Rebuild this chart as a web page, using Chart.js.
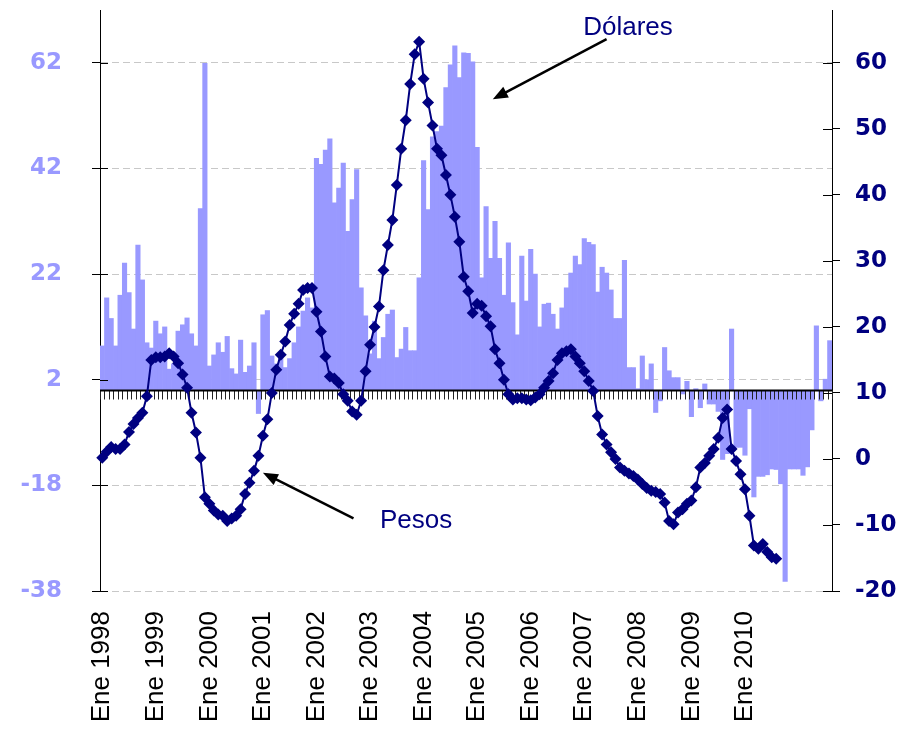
<!DOCTYPE html>
<html>
<head>
<meta charset="utf-8">
<script src="https://cdn.jsdelivr.net/npm/chart.js@4/dist/chart.umd.min.js"></script>
<style>
  html, body { margin: 0; padding: 0; background: #fff; }
  canvas { display: block; }
</style>
</head>
<body>
<canvas id="chart" width="920" height="729"></canvas>
<script>
// categories: monthly, Ene 1998 .. Ago 2011
const meses = ["Ene", "Feb", "Mar", "Abr", "May", "Jun", "Jul", "Ago", "Sep", "Oct", "Nov", "Dic"];
const anios = [1998, 1999, 2000, 2001, 2002, 2003, 2004, 2005, 2006, 2007, 2008, 2009, 2010, 2011];
const nMeses = 164;

// tick labels shown on the category axis
const tickLabels = ["Ene 1998", "Ene 1999", "Ene 2000", "Ene 2001", "Ene 2002", "Ene 2003", "Ene 2004",
  "Ene 2005", "Ene 2006", "Ene 2007", "Ene 2008", "Ene 2009", "Ene 2010"];

// Dólares (bars, left axis)
const dolares = [
  8.4, 17.5, 13.6, 8.4, 18, 24.1, 18.5, 11.6, 27.5, 20.9, 9, 8,
  13.1, 10.7, 12, 4, 5, 11.2, 12.4, 13.7, 10.7, 8.4, 34.4, 61.9,
  4.6, 6.7, 9, 7.2, 10.2, 4.1, 3.1, 9.5, 3.4, 4.6, 9, -4.4,
  14.3, 15.1, 6.5, 5, 7, 4.3, 6, 9, 12, 15, 17.5, 15.6,
  43.9, 42.8, 45.5, 47.6, 35.5, 38.3, 43, 30.1, 36.1, 41.8, 19.4, 14.1,
  6.9, 13.1, 6, 10, 14.4, 15.2, 6.2, 7.8, 11.9, 7.5, 7.5, 21.3,
  43.5, 34.2, 48, 49, 50, 57.3, 61.6, 65.2, 59.2, 63.9, 63.8, 62.2,
  46, 21.3, 34.8, 25, 32, 25, 18, 27.9, 16.6, 10.5, 25.4, 16.9,
  26.7, 22, 12, 16.3, 16.5, 14.4, 11.6, 15.6, 19.4, 22.2, 25.4, 23.8,
  28.7, 28, 27.6, 18.6, 23.3, 22.2, 19, 13.6, 13.6, 24.6, 4.3, 4.3,
  0.3, 6.5, 2, 5, -4.2, -2, 8.1, 3.7, 2.4, 2.4, -0.7, 1.7,
  -5, 0.3, -3.3, 1.2, -2.6, -2.6, -4, -13.1, -12, 11.6, -10.8, -10.8,
  -12.3, -3.5, -20.2, -16.3, -16.3, -16, -14.9, -15, -17.7, -36.2, -14.9, -14.9,
  -14.9, -16.1, -14.5, -7.5, 12.2, -2, 2.1, 9.4
];

// Pesos (line, right axis)
const pesos = [
  0.2, 1.1, 1.8, 1.5, 1.5, 2.2, 4.1, 5.3, 6.2, 7, 9.5, 15,
  15.4, 15.4, 15.5, 16, 15.5, 14.5, 12.8, 10.8, 7, 4, 0.2, -5.8,
  -6.8, -7.8, -8.4, -8.6, -9.4, -9, -8.6, -7.6, -5.3, -3.6, -1.8, 0.5,
  3.5, 6, 10, 13.5, 15.8, 17.8, 20.3, 22, 23.5, 25.6, 25.9, 25.9,
  22.3, 19.3, 15.5, 12.5, 12.2, 11.5, 9.8, 8.8, 7.2, 6.7, 8.8, 13.3,
  17.3, 20, 23.1, 28.6, 32.4, 36.2, 41.5, 47, 51.3, 56.8, 61.3, 63.2,
  57.6, 54, 50.5, 47, 46, 43, 40, 36.7, 32.9, 27.6, 25.4, 22.1,
  23.5, 23.2, 21.6, 20.1, 16.6, 14.5, 12, 9.8, 9, 9.2, 9.2, 9,
  8.9, 9.3, 9.8, 10.8, 11.8, 13, 15, 16, 16.3, 16.6, 15.5, 14.5,
  13.3, 11.8, 10.3, 6.5, 3.7, 2.2, 1, 0, -1.3, -1.8, -2.2, -2.6,
  -3.1, -3.8, -4.4, -4.8, -5, -5.3, -6.6, -9.4, -9.9, -8.1, -7.6, -6.8,
  -6.3, -4.3, -1.3, -0.6, 0.5, 1.5, 3.2, 6.2, 7.5, 1.5, -0.3, -2.3,
  -4.6, -8.6, -13.1, -13.6, -12.9, -14.1, -14.9, -15.1
];

const leftTicks = [-38, -18, 2, 22, 42, 62];
const rightTicks = [-20, -10, 0, 10, 20, 30, 40, 50, 60];

const labels = [];
for (let i = 0; i < nMeses; i++) {
  labels.push(meses[i % 12] + " " + anios[Math.floor(i / 12)]);
}

// horizontal axis line with monthly ticks, drawn at zero of the left scale,
// plus the inner half of the value-axis tick marks (they cross the axis lines)
const zeroAxis = {
  id: "zeroAxis",
  afterDatasetDraw(chart, args) {
    if (args.index !== 1) return;
    const { ctx, chartArea } = chart;
    const xs = chart.scales.x;
    const y0 = Math.round(chart.scales.y.getPixelForValue(0)) + 0.5;
    ctx.save();
    ctx.strokeStyle = "#222";
    ctx.lineWidth = 1;
    ctx.beginPath();
    for (let i = 0; i <= labels.length; i++) {
      const px = Math.round(xs.getPixelForValue(i - 0.5)) + 0.5;
      ctx.moveTo(px, y0);
      ctx.lineTo(px, y0 + 9);
    }
    ctx.stroke();
    ctx.strokeStyle = "#000";
    ctx.lineWidth = 2;
    ctx.beginPath();
    ctx.moveTo(chartArea.left, y0);
    ctx.lineTo(chartArea.right, y0);
    ctx.stroke();

    ctx.lineWidth = 1;
    ctx.beginPath();
    leftTicks.forEach(v => {
      const py = Math.round(chart.scales.y.getPixelForValue(v)) + 0.5;
      ctx.moveTo(chartArea.left, py);
      ctx.lineTo(chartArea.left + 8, py);
    });
    rightTicks.forEach(v => {
      const py = Math.round(chart.scales.yR.getPixelForValue(v)) + 0.5;
      ctx.moveTo(chartArea.right, py);
      ctx.lineTo(chartArea.right - 9, py);
    });
    ctx.stroke();
    ctx.restore();
  }
};

function arrow(ctx, x1, y1, x2, y2) {
  const a = Math.atan2(y2 - y1, x2 - x1);
  const len = 15, w = 6;
  ctx.beginPath();
  ctx.moveTo(x1, y1);
  ctx.lineTo(x2 - Math.cos(a) * len * 0.8, y2 - Math.sin(a) * len * 0.8);
  ctx.stroke();
  ctx.beginPath();
  ctx.moveTo(x2, y2);
  ctx.lineTo(x2 - len * Math.cos(a) + w * Math.sin(a), y2 - len * Math.sin(a) - w * Math.cos(a));
  ctx.lineTo(x2 - len * Math.cos(a) - w * Math.sin(a), y2 - len * Math.sin(a) + w * Math.cos(a));
  ctx.closePath();
  ctx.fill();
}

// "Dólares" / "Pesos" callouts, placed in (month index, right axis value)
const notes = {
  id: "notes",
  afterDraw(chart) {
    const { ctx } = chart;
    const xs = chart.scales.x, rs = chart.scales.yR;
    const P = (i, v) => [xs.getPixelForValue(i), rs.getPixelForValue(v)];
    ctx.save();
    ctx.font = '26px "Liberation Sans", Arial, sans-serif';
    ctx.fillStyle = "#000080";
    ctx.textAlign = "center";
    ctx.textBaseline = "middle";
    let p = P(117.8, 65.3);
    ctx.fillText("Dólares", p[0], p[1]);
    p = P(70.3, -9.4);
    ctx.fillText("Pesos", p[0], p[1]);

    ctx.strokeStyle = "#000";
    ctx.fillStyle = "#000";
    ctx.lineWidth = 2.5;
    let a = P(113.0, 63.6), b = P(87.5, 54.5);
    arrow(ctx, a[0], a[1], b[0], b[1]);
    a = P(56.3, -9.0); b = P(36.0, -2.1);
    arrow(ctx, a[0], a[1], b[0], b[1]);
    ctx.restore();
  }
};

// keep the value axes from pushing the plot area down
function fitY(width) {
  return function (scale) {
    scale.width = width;
    scale.paddingTop = 0;
    scale.paddingBottom = 0;
  };
}

const ctx = document.getElementById("chart").getContext("2d");
const chart = new Chart(ctx, {
  data: {
    labels: labels,
    datasets: [
      {
        type: "line",
        label: "Pesos",
        data: pesos,
        yAxisID: "yR",
        borderColor: "#000080",
        backgroundColor: "#000080",
        borderWidth: 2,
        pointStyle: "rectRot",
        pointRadius: 6,
        pointBorderWidth: 0,
        tension: 0,
        order: 0
      },
      {
        type: "bar",
        label: "Dólares",
        data: dolares,
        yAxisID: "y",
        backgroundColor: "#9999FF",
        borderWidth: 0,
        barPercentage: 1,
        categoryPercentage: 1,
        order: 1
      }
    ]
  },
  options: {
    responsive: false,
    animation: false,
    layout: { padding: { top: 10, left: 0, right: 0, bottom: 0 } },
    plugins: {
      legend: { display: false },
      tooltip: { enabled: false }
    },
    scales: {
      x: {
        offset: true,
        grid: { display: false, drawTicks: false },
        border: { display: false },
        ticks: {
          autoSkip: false,
          minRotation: 90,
          maxRotation: 90,
          padding: 20,
          color: "#000",
          font: { family: '"Liberation Sans", Arial, sans-serif', size: 26 },
          callback(value) {
            const l = this.getLabelForValue(value);
            return tickLabels.includes(l) ? l : "";
          }
        },
        afterFit(scale) {
          scale.height = 138;
          scale.paddingLeft = 0;
          scale.paddingRight = 0;
        }
      },
      y: {
        position: "left",
        min: -38,
        max: 72,
        afterBuildTicks(axis) { axis.ticks = leftTicks.map(v => ({ value: v })); },
        afterFit: fitY(100),
        grid: { color: "#C8C8C8", tickColor: "#000", tickLength: 8, lineWidth: 1 },
        border: { display: true, color: "#000", width: 1, dash: [7, 4] },
        ticks: {
          padding: 30,
          color: "#9999FF",
          font: { family: '"DejaVu Sans", Verdana, sans-serif', size: 23, weight: "bold" }
        }
      },
      yR: {
        position: "right",
        min: -20,
        max: 68,
        afterBuildTicks(axis) { axis.ticks = rightTicks.map(v => ({ value: v })); },
        afterFit: fitY(88),
        grid: { drawOnChartArea: false, tickColor: "#000", tickLength: 8 },
        border: { display: true, color: "#000", width: 1 },
        ticks: {
          padding: 15,
          color: "#000080",
          font: { family: '"DejaVu Sans", Verdana, sans-serif', size: 23, weight: "bold" }
        }
      }
    }
  },
  plugins: [zeroAxis, notes]
});
</script>
</body>
</html>
